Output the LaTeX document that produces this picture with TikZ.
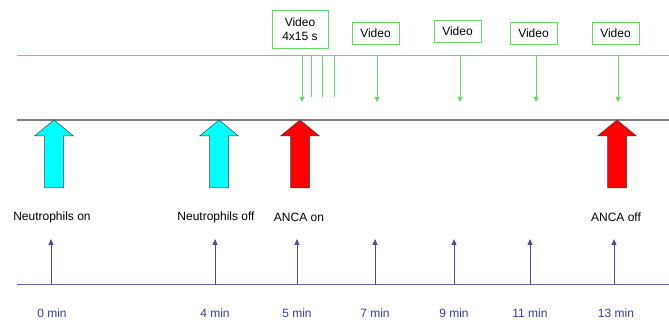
\documentclass[tikz,border=0pt]{standalone}
\usepackage{fontspec}
\setmainfont{Liberation Sans}
\usetikzlibrary{arrows.meta}
\definecolor{vgreen}{HTML}{66D966}
\definecolor{tblue}{HTML}{4B4BA3}
\definecolor{lblue}{HTML}{3A3AA0}
\definecolor{bgray}{HTML}{808080}
\definecolor{acyan}{HTML}{00FFFF}
\definecolor{ared}{HTML}{FF0000}
\begin{document}
\begin{tikzpicture}[x=1pt,y=-1pt,
  txt/.style={font=\fontsize{12}{14}\selectfont, inner sep=0pt},
  vbox/.style={draw=vgreen, line width=0.9pt, font=\fontsize{12}{14}\selectfont, align=center, inner sep=0pt, minimum height=22pt},
  vline/.style={draw=vgreen, line width=0.9pt},
  varrow/.style={vline, -{Triangle[width=5pt,length=5pt]}},
  tarrow/.style={draw=tblue, line width=0.9pt, -{Triangle[width=5pt,length=6pt]}},
  tlab/.style={txt, text=lblue},
  barrow/.style={draw=black!75, line width=0.5pt}
]
\useasboundingbox (0,0) rectangle (669,320);
% main lines
\coordinate (gL) at (17,55);  \coordinate (gR) at (669,55);
\coordinate (kL) at (17,120); \coordinate (kR) at (669,120);
\coordinate (bL) at (17,284); \coordinate (bR) at (669,284);
\draw[vline] (gL) -- (gR);
\draw[bgray, line width=1.8pt] (kL) -- (kR);
\draw[tblue!85, line width=0.9pt] (bL) -- (bR);

% video boxes
\node[vbox, minimum width=56pt, minimum height=38pt] (v1) at (300,29) {Video\\4x15 s};
\node[vbox, minimum width=47pt] (v2) at (375.5,33) {Video};
\node[vbox, minimum width=47pt] (v3) at (457.5,31.5) {Video};
\node[vbox, minimum width=47pt] (v4) at (533.5,33) {Video};
\node[vbox, minimum width=47pt] (v5) at (615.5,33) {Video};

% green arrows
\foreach \n/\x in {a/302,b/377,c/460,d/536,e/618}{
  \coordinate (g\n s) at (\x,55);
  \coordinate (g\n e) at (\x,102);
  \draw[varrow] (g\n s) -- (g\n e);
}
\foreach \n/\x in {f/311,g/322,h/334}{
  \coordinate (g\n s) at (\x,55);
  \coordinate (g\n e) at (\x,97);
  \draw[vline] (g\n s) -- (g\n e);
}

% block arrows
\foreach \cx/\col in {54/acyan,219/acyan,300/ared,617/ared}{
  \draw[barrow, fill=\col] (\cx,120) -- (\cx+19.5,136) -- (\cx+9.5,136) -- (\cx+9.5,188)
    -- (\cx-9.5,188) -- (\cx-9.5,136) -- (\cx-19.5,136) -- cycle;
}
\node[txt] (l1) at (52,217) {Neutrophils on};
\node[txt] (l2) at (216,217) {Neutrophils off};
\node[txt] (l3) at (299,217) {ANCA on};
\node[txt] (l4) at (616,217) {ANCA off};

% time arrows
\foreach \n/\x/\lx/\lab in {0/51/52/0 min,4/215/215/4 min,5/297/297/5 min,7/375/375/7 min,9/454/454/9 min,11/530/530/11 min,13/614/616/13 min}{
  \coordinate (t\n s) at (\x,284);
  \coordinate (t\n e) at (\x,239);
  \draw[tarrow] (t\n s) -- (t\n e);
  \node[tlab] (tl\n) at (\lx,313) {\lab};
}
\end{tikzpicture}
\end{document}
